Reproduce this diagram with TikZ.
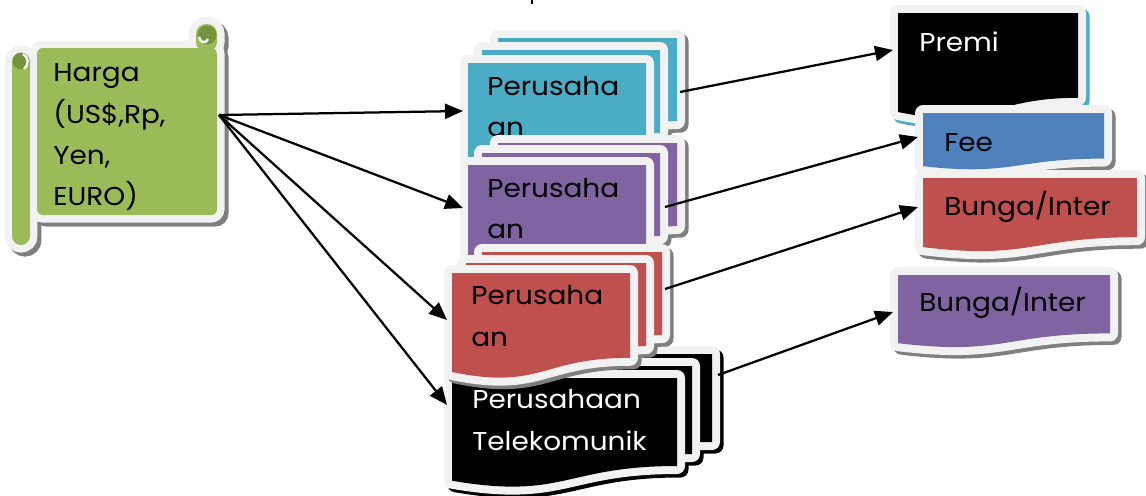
\documentclass[tikz,border=0pt]{standalone}
\usepackage{fontspec}
\setmainfont[FakeStretch=1.08]{Poppins}
\usetikzlibrary{arrows.meta}

\definecolor{grn}{HTML}{9BBB59}
\definecolor{grndk}{HTML}{76923C}
\definecolor{cyn}{HTML}{4BACC6}
\definecolor{prp}{HTML}{8064A2}
\definecolor{rd}{HTML}{C0504D}
\definecolor{blu}{HTML}{4F81BD}
\definecolor{edge}{HTML}{F2F2F2}
\definecolor{shd}{HTML}{7F7F7F}

% document card: flat top, wavy bottom (x, y = top-left of the face, w, h)
\newcommand{\docpath}[4]{(#1,#2) -- ({#1+#3},#2) -- ({#1+#3},{#2+0.8*#4}) .. controls ({#1+0.5*#3},{#2+0.8*#4}) and ({#1+0.5*#3},{#2+1.108*#4}) .. (#1,{#2+0.934*#4}) -- cycle}
\newcommand{\cardshadow}[5]{\path[cardshade=#5] \docpath{#1}{#2}{#3}{#4};}
\newcommand{\cardbody}[5]{\path[cardrim] \docpath{#1}{#2}{#3}{#4};\path[cardface=#5] \docpath{#1}{#2}{#3}{#4};}

\tikzset{
  cardshade/.style={fill=#1, draw=#1, line width=0.32cm, line join=round, shift={(3.5,3.5)}},
  cardrim/.style={draw=edge, line width=0.32cm, line join=round},
  cardface/.style={fill=#1},
  lbl/.style={anchor=base west, inner sep=0pt, font=\fontsize{14.7pt}{18pt}\selectfont},
  wlbl/.style={lbl, text=white},
  link/.style={line width=0.045cm, -{Triangle[length=0.36cm,width=0.3cm]}},
}

\begin{document}
\begin{tikzpicture}[x=0.02cm, y=-0.02cm]
\useasboundingbox (0,0) rectangle (1146,495);

% small mark at the top edge
\fill (531,0) rectangle (533,4);

% ---------- scroll: Harga ----------
\begin{scope}[shift={(4,4)}]
  \path[fill=shd, draw=shd, line width=0.3cm, rounded corners=0.18cm] (12,53) rectangle (30,245);
  \path[fill=shd, draw=shd, line width=0.3cm, rounded corners=0.12cm] (37,48) rectangle (217,215);
  \path[fill=shd, draw=shd, line width=0.3cm, rounded corners=0.2cm] (196,24) rectangle (217,52);
\end{scope}
\path[draw=edge, line width=0.3cm, rounded corners=0.18cm] (12,53) rectangle (30,245);
\path[draw=edge, line width=0.3cm, rounded corners=0.12cm] (37,48) rectangle (217,215);
\path[draw=edge, line width=0.3cm, rounded corners=0.2cm] (196,24) rectangle (217,52);
\path[fill=grn, rounded corners=0.12cm] (37,48) rectangle (217,215);
\path[fill=grn, rounded corners=0.2cm] (196,24) rectangle (217,52);
\path[fill=grn, rounded corners=0.18cm] (12,53) rectangle (30,245);
\fill[grndk] (207,35) circle[radius=9.5];
\draw[edge, line width=0.05cm] (199,37) .. controls (200,43) and (206,44) .. (208,39);
\fill[grndk] (21,61) circle[radius=8.5];
\draw[edge, line width=0.05cm] (23,54) .. controls (29,57) and (29,65) .. (24,69);

\node[lbl] (h1) at (53,81) {Harga};
\node[lbl] (h2) at (53,123) {(US\$,Rp,};
\node[lbl] (h3) at (53,164) {Yen,};
\node[lbl] (h4) at (53,205) {EURO)};

% ---------- stack 1 (cyan) ----------
\cardshadow{498}{38}{179}{104}{shd}
\cardshadow{482}{50}{178}{104}{shd}
\cardshadow{468}{63}{178}{104}{shd}
\cardbody{498}{38}{179}{104}{cyn}
\cardbody{482}{50}{178}{104}{cyn}
\cardbody{468}{63}{178}{104}{cyn}
\node[lbl] (c1) at (487,95) {Perusaha};
\node[lbl] (c2) at (487,136) {an};

% ---------- stack 2 (purple) ----------
\cardshadow{498}{143}{179}{104}{shd}
\cardshadow{482}{153}{178}{104}{shd}
\cardshadow{468}{165}{178}{104}{shd}
\cardbody{498}{143}{179}{104}{prp}
\cardbody{482}{153}{178}{104}{prp}
\cardbody{468}{165}{178}{104}{prp}
\node[lbl] (p1) at (487,197) {Perusaha};
\node[lbl] (p2) at (487,238) {an};

% ---------- stack 4 (black) ----------
\cardshadow{487}{354}{225}{110}{black}
\cardshadow{467}{366}{225}{110}{black}
\cardshadow{452}{378}{225}{110}{black}
\cardbody{487}{354}{225}{110}{black}
\cardbody{467}{366}{225}{110}{black}
\cardbody{452}{378}{225}{110}{black}
\node[wlbl] (t1) at (472,408) {Perusahaan};
\node[wlbl] (t2) at (472,450) {Telekomunik};

% ---------- stack 3 (red) ----------
\cardshadow{482}{252}{180}{104}{shd}
\cardshadow{466}{263}{180}{104}{shd}
\cardshadow{452}{273}{178}{106}{shd}
\cardbody{482}{252}{180}{104}{rd}
\cardbody{466}{263}{180}{104}{rd}
\cardbody{452}{273}{178}{106}{rd}
\node[lbl] (r1) at (471,304) {Perusaha};
\node[lbl] (r2) at (471,346) {an};

% ---------- right column ----------
\cardshadow{898}{13}{180}{106}{cyn}
\cardbody{898}{13}{180}{106}{black}
\node[wlbl] (premi) at (919,51) {Premi};

\cardshadow{923}{113}{181}{57}{shd}
\cardbody{923}{113}{181}{57}{blu}
\node[lbl] (fee) at (944,151) {Fee};

\cardshadow{923}{178}{214}{74}{shd}
\cardbody{923}{178}{214}{74}{rd}
\node[lbl] (bunga1) at (944,215) {Bunga/Inter};

\cardshadow{898}{275}{212}{73}{shd}
\cardbody{898}{275}{212}{73}{prp}
\node[lbl] (bunga2) at (919,311) {Bunga/Inter};

% ---------- connectors ----------
\coordinate (hout) at (219,115);
\coordinate (cin) at (463,111);
\coordinate (pin) at (463,208);
\coordinate (rin) at (447,320);
\coordinate (tin) at (447,405);
\coordinate (cout) at (680,92);
\coordinate (pout) at (665,207);
\coordinate (rout) at (665,289);
\coordinate (tout) at (718,375);
\coordinate (premiin) at (893,50);
\coordinate (feein) at (918,137);
\coordinate (bungain) at (918,207);
\coordinate (bungbin) at (893,312);

\draw[link] (hout) -- (cin);
\draw[link] (hout) -- (pin);
\draw[link] (hout) -- (rin);
\draw[link] (hout) -- (tin);
\draw[link] (cout) -- (premiin);
\draw[link] (pout) -- (feein);
\draw[link] (rout) -- (bungain);
\draw[link] (tout) -- (bungbin);
\end{tikzpicture}
\end{document}
